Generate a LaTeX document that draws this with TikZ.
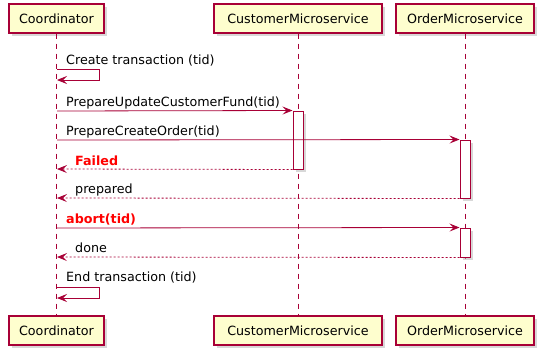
\documentclass[tikz,border=0pt]{standalone}
\usepackage{fontspec}
\setmainfont{DejaVu Sans}
\usetikzlibrary{arrows.meta,positioning,shadows}
\definecolor{umlred}{HTML}{A80036}
\definecolor{umlfill}{HTML}{FEFECE}

\begin{document}
\begin{tikzpicture}[x=1pt,y=-1pt,
    party/.style={draw=umlred, line width=1.2pt, fill=umlfill, minimum height=29pt,
      inner sep=0pt, font=\fontsize{12.7}{15}\selectfont,
      drop shadow={shadow xshift=3pt, shadow yshift=-3pt, fill=black!30}},
    actbox/.style={draw=umlred, line width=1pt, fill=white, minimum width=10pt,
      inner sep=0pt, drop shadow={shadow xshift=3pt, shadow yshift=-3pt, fill=black!30}},
    lifeline/.style={umlred, line width=0.8pt, dash pattern=on 5pt off 5pt},
    msg/.style={umlred, line width=0.8pt, -{Stealth[length=10pt,width=8pt,inset=4pt]}},
    reply/.style={msg, dash pattern=on 2pt off 2pt},
    lbl/.style={anchor=base west, inner sep=0pt, font=\fontsize{12.7}{15}\selectfont},
    fail/.style={lbl, text=red, font=\fontsize{12.7}{15}\selectfont\bfseries}]
  \useasboundingbox (0,0) rectangle (543,356);

  % participants, top and bottom
  \node[party, minimum width=95pt]  (coordTop) at (56.5,18.5) {Coordinator};
  \node[party, minimum width=168pt] (custTop)  at (298,18.5)  {CustomerMicroservice};
  \node[party, minimum width=138pt] (orderTop) at (465,18.5)  {OrderMicroservice};
  \node[party, minimum width=95pt]  (coordBot) at (56.5,330.5) {Coordinator};
  \node[party, minimum width=168pt] (custBot)  at (298,330.5)  {CustomerMicroservice};
  \node[party, minimum width=138pt] (orderBot) at (465,330.5)  {OrderMicroservice};

  % lifelines
  \draw[lifeline] (coordTop.south) -- (coordBot.north);
  \draw[lifeline] (custTop.south) -- (custBot.north);
  \draw[lifeline] (orderTop.south) -- (orderBot.north);

  % activations
  \node[actbox, minimum height=58pt] (custAct)   at (298,140)   {};
  \node[actbox, minimum height=58pt] (orderAct)  at (465,169)   {};
  \node[actbox, minimum height=29pt] (orderAct2) at (465,242.5) {};

  % points on the coordinator lifeline
  \coordinate (c1a) at (57,69);
  \coordinate (c1b) at (57,80);
  \coordinate (c2) at (57,111);
  \coordinate (c3) at (57,140);
  \coordinate (c4) at (57,169);
  \coordinate (c5) at (57,198);
  \coordinate (c6) at (57,228);
  \coordinate (c7) at (57,257);
  \coordinate (c8a) at (57,287);
  \coordinate (c8b) at (57,298);

  % messages
  \draw[msg] (c1a) -- ++(42,0) -- ++(0,11) -- (c1b);
  \node[lbl] (l1) at (66,64) {Create transaction (tid)};

  \draw[msg] (c2) -- (custAct.north west);
  \node[lbl] (l2) at (66,106) {PrepareUpdateCustomerFund(tid)};

  \draw[msg] (c3) -- (orderAct.north west);
  \node[lbl] (l3) at (66,135) {PrepareCreateOrder(tid)};

  \draw[reply] (custAct.south west) -- (c4);
  \node[fail] (l4) at (75,165) {Failed};

  \draw[reply] (orderAct.south west) -- (c5);
  \node[lbl] (l5) at (75,193) {prepared};

  \draw[msg] (c6) -- (orderAct2.north west);
  \node[fail] (l6) at (66,223) {abort(tid)};

  \draw[reply] (orderAct2.south west) -- (c7);
  \node[lbl] (l7) at (75,252) {done};

  \draw[msg] (c8a) -- ++(42,0) -- ++(0,11) -- (c8b);
  \node[lbl] (l8) at (66,281) {End transaction (tid)};
\end{tikzpicture}
\end{document}
